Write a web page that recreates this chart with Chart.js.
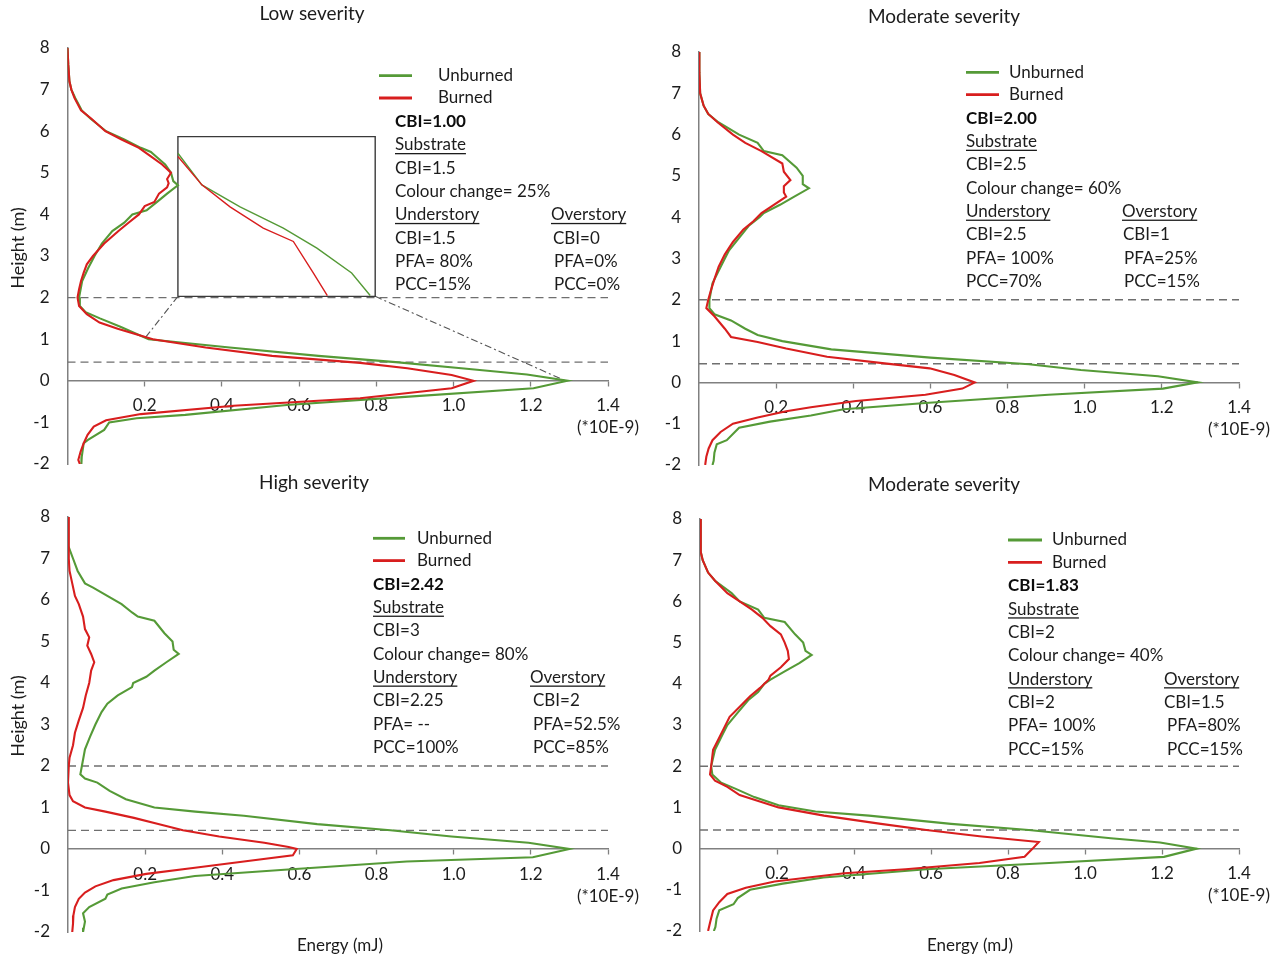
<!DOCTYPE html>
<html>
<head>
<meta charset="utf-8">
<script src="https://cdn.jsdelivr.net/npm/chart.js@4.4.1/dist/chart.umd.min.js"></script>
<style>
  html, body { margin: 0; padding: 0; background: #ffffff; }
  #wrap { position: relative; width: 1281px; height: 965px; overflow: hidden; background: #ffffff; }
  canvas { position: absolute; }
</style>
</head>
<body>
<div id="wrap">
  <canvas id="p1" width="640" height="470" style="left:0px;top:0px"></canvas>
  <canvas id="p2" width="641" height="470" style="left:640px;top:0px"></canvas>
  <canvas id="p3" width="640" height="495" style="left:0px;top:470px"></canvas>
  <canvas id="p4" width="641" height="495" style="left:640px;top:470px"></canvas>
</div>
<script>
// ---- Axis ticks -----------------------------------------------------------
const energyTicks = [0.2, 0.4, 0.6, 0.8, 1.0, 1.2, 1.4];
const heightTicks = [-2, -1, 0, 1, 2, 3, 4, 5, 6, 7, 8];
const energyUnit = '(*10E-9)';
const strataLevels = [2.0, 0.45];          // canopy / understory break heights (m)

// ---- Low severity ----------------------------------------------------------
const lowUnburnedHeight = [8.0, 7.6, 7.2, 7.0, 6.8, 6.5, 6.3, 6.0, 5.8, 5.6, 5.5, 5.45, 5.2, 5.0, 4.8, 4.7, 4.5, 4.3, 4.1, 4.0, 3.8, 3.6, 3.3, 3.0, 2.7, 2.4, 2.0, 1.8, 1.65, 1.5, 1.3, 1.0, 0.8, 0.6, 0.45, 0.3, 0.15, 0.0, -0.18, -0.38, -0.58, -0.82, -0.9, -1.0, -1.18, -1.42, -1.5, -1.82, -2.0];
const lowUnburnedEnergy = [0.000, 0.002, 0.005, 0.010, 0.020, 0.037, 0.060, 0.100, 0.147, 0.190, 0.216, 0.222, 0.253, 0.268, 0.274, 0.286, 0.258, 0.232, 0.205, 0.168, 0.147, 0.116, 0.089, 0.070, 0.053, 0.038, 0.030, 0.032, 0.047, 0.084, 0.137, 0.210, 0.420, 0.650, 0.850, 1.020, 1.190, 1.295, 1.207, 0.884, 0.568, 0.305, 0.179, 0.108, 0.095, 0.053, 0.042, 0.037, 0.036];
const lowBurnedHeight = [8.0, 7.6, 7.2, 7.0, 6.8, 6.5, 6.3, 6.0, 5.8, 5.6, 5.4, 5.2, 5.0, 4.85, 4.75, 4.65, 4.5, 4.3, 4.2, 4.0, 3.8, 3.6, 3.3, 3.0, 2.8, 2.6, 2.4, 2.2, 2.0, 1.8, 1.6, 1.4, 1.25, 1.0, 0.8, 0.6, 0.43, 0.3, 0.14, 0.0, -0.18, -0.42, -0.6, -0.8, -0.95, -1.1, -1.3, -1.5, -1.7, -1.9, -2.0];
const lowBurnedEnergy = [0.000, 0.002, 0.005, 0.010, 0.018, 0.035, 0.062, 0.098, 0.140, 0.185, 0.215, 0.245, 0.268, 0.258, 0.262, 0.258, 0.237, 0.225, 0.200, 0.185, 0.158, 0.132, 0.095, 0.066, 0.050, 0.042, 0.035, 0.030, 0.026, 0.030, 0.050, 0.083, 0.130, 0.221, 0.358, 0.530, 0.758, 0.880, 0.995, 1.052, 0.995, 0.758, 0.430, 0.190, 0.100, 0.068, 0.052, 0.042, 0.034, 0.028, 0.032];

// Magnified view of the main pulse (low severity only)
const insetUnburnedHeight = [5.47, 4.71, 4.18, 3.67, 3.19, 2.59, 2.05];
const insetUnburnedEnergy = [0.286, 0.348, 0.447, 0.559, 0.646, 0.736, 0.784];
const insetBurnedHeight = [5.39, 4.71, 4.18, 3.67, 3.35, 2.59, 2.05];
const insetBurnedEnergy = [0.286, 0.348, 0.421, 0.507, 0.585, 0.637, 0.673];
const insetFrameHeight = [2.03, 2.03, 5.87, 5.87, 2.03];
const insetFrameEnergy = [0.286, 0.797, 0.797, 0.286, 0.286];
const insetLeaderLeftHeight = [2.03, 1.03];
const insetLeaderLeftEnergy = [0.286, 0.201];
const insetLeaderRightHeight = [2.03, 0.0];
const insetLeaderRightEnergy = [0.797, 1.29];

// ---- Moderate severity (CBI 2.00) -----------------------------------------
const modAUnburnedHeight = [8.0, 7.5, 7.0, 6.7, 6.5, 6.3, 6.0, 5.8, 5.6, 5.5, 5.2, 5.0, 4.8, 4.7, 4.5, 4.3, 4.1, 4.0, 3.8, 3.5, 3.2, 3.0, 2.7, 2.4, 2.0, 1.8, 1.65, 1.5, 1.3, 1.15, 1.0, 0.8, 0.6, 0.44, 0.3, 0.15, 0.0, -0.15, -0.3, -0.5, -0.65, -0.8, -0.95, -1.1, -1.2, -1.4, -1.5, -1.7, -1.9, -2.0];
const modAUnburnedEnergy = [0.000, 0.001, 0.003, 0.012, 0.024, 0.050, 0.104, 0.152, 0.168, 0.216, 0.253, 0.269, 0.269, 0.285, 0.247, 0.210, 0.168, 0.157, 0.130, 0.104, 0.078, 0.067, 0.051, 0.035, 0.027, 0.027, 0.040, 0.083, 0.120, 0.152, 0.216, 0.343, 0.600, 0.855, 0.990, 1.190, 1.293, 1.203, 0.906, 0.587, 0.375, 0.290, 0.184, 0.104, 0.093, 0.072, 0.046, 0.040, 0.038, 0.035];
const modABurnedHeight = [8.0, 7.5, 7.0, 6.7, 6.5, 6.3, 6.0, 5.8, 5.6, 5.3, 5.1, 4.9, 4.75, 4.6, 4.5, 4.3, 4.1, 3.9, 3.7, 3.4, 3.1, 2.8, 2.5, 2.2, 2.0, 1.8, 1.6, 1.3, 1.1, 0.98, 0.82, 0.62, 0.46, 0.34, 0.18, 0.0, -0.15, -0.3, -0.45, -0.6, -0.7, -0.85, -1.0, -1.2, -1.4, -1.6, -1.8, -2.0];
const modABurnedEnergy = [0.000, 0.001, 0.003, 0.012, 0.024, 0.048, 0.088, 0.120, 0.162, 0.216, 0.220, 0.237, 0.220, 0.220, 0.226, 0.194, 0.162, 0.141, 0.115, 0.088, 0.067, 0.051, 0.040, 0.030, 0.024, 0.019, 0.040, 0.067, 0.083, 0.152, 0.226, 0.332, 0.481, 0.598, 0.662, 0.715, 0.683, 0.587, 0.407, 0.290, 0.226, 0.152, 0.088, 0.056, 0.035, 0.025, 0.019, 0.016];

// ---- High severity ---------------------------------------------------------
const highUnburnedHeight = [8.0, 7.4, 7.3, 7.0, 6.7, 6.4, 6.3, 6.1, 5.9, 5.7, 5.6, 5.5, 5.2, 5.0, 4.8, 4.7, 4.5, 4.3, 4.15, 4.0, 3.9, 3.7, 3.5, 3.3, 3.0, 2.7, 2.4, 2.0, 1.8, 1.7, 1.6, 1.4, 1.2, 1.0, 0.9, 0.8, 0.6, 0.45, 0.3, 0.15, 0.0, -0.2, -0.3, -0.5, -0.65, -0.8, -0.95, -1.1, -1.2, -1.4, -1.55, -1.75, -1.9, -2.0];
const highUnburnedEnergy = [0.000, 0.000, 0.002, 0.013, 0.025, 0.044, 0.065, 0.102, 0.139, 0.166, 0.181, 0.224, 0.250, 0.271, 0.274, 0.287, 0.255, 0.224, 0.203, 0.169, 0.166, 0.129, 0.102, 0.087, 0.071, 0.057, 0.044, 0.036, 0.032, 0.044, 0.076, 0.108, 0.150, 0.224, 0.330, 0.456, 0.646, 0.836, 0.994, 1.194, 1.300, 1.205, 0.878, 0.561, 0.329, 0.224, 0.139, 0.102, 0.097, 0.055, 0.039, 0.044, 0.041, 0.039];
const highBurnedHeight = [8.0, 7.0, 6.7, 6.4, 6.1, 5.9, 5.6, 5.3, 5.1, 4.9, 4.7, 4.5, 4.3, 4.0, 3.7, 3.4, 3.1, 2.8, 2.5, 2.2, 2.0, 1.6, 1.3, 1.15, 1.0, 0.9, 0.75, 0.6, 0.45, 0.3, 0.15, 0.05, 0.0, -0.15, -0.3, -0.45, -0.6, -0.75, -0.9, -1.05, -1.2, -1.4, -1.6, -1.8, -2.0];
const highBurnedEnergy = [0.000, 0.002, 0.004, 0.011, 0.018, 0.028, 0.039, 0.044, 0.055, 0.050, 0.060, 0.068, 0.060, 0.055, 0.046, 0.039, 0.028, 0.018, 0.013, 0.004, 0.002, 0.000, 0.004, 0.013, 0.044, 0.097, 0.171, 0.234, 0.298, 0.392, 0.509, 0.572, 0.593, 0.583, 0.456, 0.329, 0.203, 0.118, 0.071, 0.044, 0.028, 0.018, 0.014, 0.013, 0.011];

// ---- Moderate severity (CBI 1.83) -----------------------------------------
const modBUnburnedHeight = [8.0, 7.2, 7.0, 6.7, 6.5, 6.2, 6.0, 5.8, 5.6, 5.5, 5.2, 5.0, 4.8, 4.7, 4.5, 4.3, 4.1, 4.0, 3.8, 3.6, 3.3, 3.0, 2.7, 2.4, 2.0, 1.8, 1.6, 1.45, 1.25, 1.05, 0.9, 0.8, 0.6, 0.45, 0.25, 0.15, 0.0, -0.2, -0.35, -0.5, -0.7, -0.85, -1.0, -1.2, -1.35, -1.5, -1.7, -1.9, -2.0];
const modBUnburnedEnergy = [0.000, 0.002, 0.007, 0.021, 0.039, 0.082, 0.103, 0.151, 0.167, 0.220, 0.247, 0.268, 0.274, 0.290, 0.258, 0.220, 0.183, 0.167, 0.151, 0.125, 0.098, 0.071, 0.055, 0.039, 0.029, 0.032, 0.055, 0.093, 0.141, 0.204, 0.300, 0.439, 0.652, 0.854, 1.067, 1.195, 1.290, 1.205, 0.907, 0.588, 0.321, 0.215, 0.130, 0.098, 0.087, 0.050, 0.043, 0.040, 0.036];
const modBBurnedHeight = [8.0, 7.2, 7.0, 6.7, 6.5, 6.2, 6.0, 5.8, 5.6, 5.4, 5.2, 5.0, 4.8, 4.6, 4.4, 4.2, 4.1, 3.9, 3.7, 3.5, 3.2, 2.9, 2.6, 2.4, 2.0, 1.8, 1.65, 1.5, 1.3, 1.0, 0.8, 0.6, 0.45, 0.3, 0.16, 0.0, -0.2, -0.35, -0.5, -0.6, -0.8, -0.95, -1.1, -1.3, -1.5, -1.8, -2.0];
const modBBurnedEnergy = [0.000, 0.002, 0.007, 0.021, 0.039, 0.071, 0.103, 0.135, 0.162, 0.183, 0.210, 0.220, 0.228, 0.231, 0.210, 0.183, 0.178, 0.156, 0.130, 0.109, 0.077, 0.061, 0.045, 0.034, 0.029, 0.026, 0.039, 0.071, 0.103, 0.204, 0.322, 0.470, 0.588, 0.726, 0.880, 0.864, 0.843, 0.726, 0.534, 0.375, 0.194, 0.119, 0.071, 0.050, 0.034, 0.026, 0.021];

// ---- Per-site burn severity descriptors -----------------------------------
const seriesNames = ['Burned', 'Unburned'];
const lowCbi = 'CBI=1.00';
const lowSubstrate = ['CBI=1.5', 'Colour change= 25%'];
const lowUnderstory = ['CBI=1.5', 'PFA= 80%', 'PCC=15%'];
const lowOverstory = ['CBI=0', 'PFA=0%', 'PCC=0%'];
const modACbi = 'CBI=2.00';
const modASubstrate = ['CBI=2.5', 'Colour change= 60%'];
const modAUnderstory = ['CBI=2.5', 'PFA= 100%', 'PCC=70%'];
const modAOverstory = ['CBI=1', 'PFA=25%', 'PCC=15%'];
const highCbi = 'CBI=2.42';
const highSubstrate = ['CBI=3', 'Colour change= 80%'];
const highUnderstory = ['CBI=2.25', 'PFA= --', 'PCC=100%'];
const highOverstory = ['CBI=2', 'PFA=52.5%', 'PCC=85%'];
const modBCbi = 'CBI=1.83';
const modBSubstrate = ['CBI=2', 'Colour change= 40%'];
const modBUnderstory = ['CBI=2', 'PFA= 100%', 'PCC=15%'];
const modBOverstory = ['CBI=1.5', 'PFA=80%', 'PCC=15%'];

// ---- Styling ---------------------------------------------------------------
const GREEN = '#559a37';
const RED = '#d81e1e';
const AXIS = '#808080';
const INK = '#1c1c1c';
const FONT = 'Lato, "Open Sans", sans-serif';
const TXT = 17;

const pts = (xs, ys) => xs.map((v, i) => ({ x: v, y: ys[i] }));

function lineSet(label, xs, ys, color, width, extra) {
  return Object.assign({
    label, data: pts(xs, ys), borderColor: color, backgroundColor: color,
    borderWidth: width, pointRadius: 0, showLine: true, tension: 0, fill: false
  }, extra || {});
}

// Draws the panel title, axis titles, legend and descriptor block
const annotate = {
  id: 'annotate',
  afterDraw(chart, args, o) {
    const ctx = chart.ctx;
    ctx.save();
    ctx.fillStyle = INK;
    ctx.textBaseline = 'middle';
    const put = (t, x, y, opts = {}) => {
      ctx.font = `${opts.bold ? 'bold ' : ''}${opts.size || TXT}px ${FONT}`;
      ctx.textAlign = opts.align || 'left';
      ctx.fillStyle = opts.color || INK;
      ctx.fillText(t, x, y);
      if (opts.under) {
        const w = ctx.measureText(t).width;
        ctx.fillRect(x, y + 8, w, 1.3);
      }
    };
    // title
    put(o.title, o.titleX, o.titleY, { align: 'center', size: 19 });
    if (o.xTitle) put('Energy (mJ)', o.xTitle[0], o.xTitle[1], { align: 'center' });
    if (o.yTitle) {
      ctx.save();
      ctx.translate(o.yTitle[0], o.yTitle[1]);
      ctx.rotate(-Math.PI / 2);
      put('Height (m)', 0, 0, { align: 'center', size: 18 });
      ctx.restore();
    }
    // legend, from the curve datasets
    const t = o.text;
    const rowY = i => t.y0 + i * 23.3;
    const legendOrder = [1, 0];
    legendOrder.forEach((di, r) => {
      const ds = chart.data.datasets[di];
      const y = rowY(r) + (r === 0 ? 0.6 : -0.4);
      ctx.strokeStyle = ds.borderColor;
      ctx.lineWidth = 2.8;
      ctx.beginPath();
      ctx.moveTo(t.lx0, y);
      ctx.lineTo(t.lx1, y);
      ctx.stroke();
      put(ds.label, t.lt, y);
    });
    // descriptors
    const d = o.desc;
    put(d.cbi, t.x, rowY(2), { bold: true, color: '#0d0d0d' });
    put('Substrate', t.x, rowY(3), { under: true });
    put(d.substrate[0], t.x, rowY(4));
    put(d.substrate[1], t.x, rowY(5));
    put('Understory', t.x, rowY(6), { under: true });
    put('Overstory', t.hx, rowY(6), { under: true });
    d.understory.forEach((s, i) => put(s, t.x, rowY(7 + i)));
    d.overstory.forEach((s, i) => put(s, t.vx[i], rowY(7 + i)));
    ctx.restore();
  }
};

function buildPanel(cfg) {
  const datasets = [
    lineSet(seriesNames[0], cfg.burned[0], cfg.burned[1], RED, 2.1),
    lineSet(seriesNames[1], cfg.unburned[0], cfg.unburned[1], GREEN, 2.1)
  ];
  if (cfg.inset) {
    datasets.push(lineSet('inset burned', insetBurnedEnergy, insetBurnedHeight, RED, 1.4));
    datasets.push(lineSet('inset unburned', insetUnburnedEnergy, insetUnburnedHeight, GREEN, 1.4));
    datasets.push(lineSet('inset frame', insetFrameEnergy, insetFrameHeight, '#3a3a3a', 1.4));
    datasets.push(lineSet('leader', insetLeaderLeftEnergy, insetLeaderLeftHeight, '#555555', 1.1, { borderDash: [7, 3, 2, 3] }));
    datasets.push(lineSet('leader', insetLeaderRightEnergy, insetLeaderRightHeight, '#555555', 1.1, { borderDash: [7, 3, 2, 3] }));
  }
  strataLevels.forEach(h => {
    datasets.push(lineSet('level', [0, 1.4], [h, h], '#6f6f6f', 1.4, { borderDash: [8, 5] }));
  });

  const W = cfg.width, H = cfg.height;
  new Chart(document.getElementById(cfg.id), {
    type: 'scatter',
    data: { datasets },
    plugins: [annotate],
    options: {
      responsive: false,
      animation: false,
      devicePixelRatio: 1,
      layout: { padding: { left: 0, top: cfg.top, right: W - cfg.right, bottom: H - cfg.bottom } },
      plugins: { legend: { display: false }, tooltip: { enabled: false }, annotate: cfg.notes },
      scales: {
        x: {
          type: 'linear', min: 0, max: 1.4, position: { y: 0 },
          afterBuildTicks: s => { s.ticks = energyTicks.map(v => ({ value: v })); },
          afterFit: s => { s.height = 0; s.paddingLeft = 0; s.paddingRight = 0; },
          ticks: {
            autoSkip: false, maxRotation: 0, padding: 9, color: INK,
            font: { family: FONT, size: 17, lineHeight: 1.3 },
            callback: v => v === energyTicks[energyTicks.length - 1] ? [v.toFixed(1), energyUnit] : v.toFixed(1)
          },
          grid: { display: true, drawOnChartArea: false, drawTicks: true, tickLength: 5, tickColor: AXIS, tickWidth: 1.3 },
          border: { display: true, color: AXIS, width: 1.5 }
        },
        y: {
          type: 'linear', min: -2, max: 8,
          afterBuildTicks: s => { s.ticks = heightTicks.map(v => ({ value: v })); },
          afterFit: s => { s.width = cfg.left; s.paddingTop = 0; s.paddingBottom = 0; },
          ticks: { padding: 18, color: INK, font: { family: FONT, size: 17 } },
          grid: { display: false, drawTicks: false },
          border: { display: true, color: AXIS, width: 1.5 }
        }
      }
    }
  });
}

buildPanel({
  id: 'p1', width: 640, height: 470, left: 67.5, right: 608, top: 48, bottom: 464,
  burned: [lowBurnedEnergy, lowBurnedHeight], unburned: [lowUnburnedEnergy, lowUnburnedHeight], inset: true,
  notes: {
    title: 'Low severity', titleX: 312, titleY: 14, yTitle: [18, 248], xTitle: null,
    text: { x: 395, y0: 75.1, lx0: 379, lx1: 412, lt: 438, hx: 551, vx: [553, 554, 554] },
    desc: { cbi: lowCbi, substrate: lowSubstrate, understory: lowUnderstory, overstory: lowOverstory }
  }
});
buildPanel({
  id: 'p2', width: 641, height: 470, left: 59, right: 599, top: 52, bottom: 465,
  burned: [modABurnedEnergy, modABurnedHeight], unburned: [modAUnburnedEnergy, modAUnburnedHeight],
  notes: {
    title: 'Moderate severity', titleX: 304, titleY: 17, yTitle: null, xTitle: null,
    text: { x: 326, y0: 71.8, lx0: 326, lx1: 359, lt: 369, hx: 482, vx: [483, 484, 484] },
    desc: { cbi: modACbi, substrate: modASubstrate, understory: modAUnderstory, overstory: modAOverstory }
  }
});
buildPanel({
  id: 'p3', width: 640, height: 495, left: 68, right: 608, top: 47, bottom: 462,
  burned: [highBurnedEnergy, highBurnedHeight], unburned: [highUnburnedEnergy, highUnburnedHeight],
  notes: {
    title: 'High severity', titleX: 314, titleY: 13, yTitle: [18, 246], xTitle: [340, 476],
    text: { x: 373, y0: 67.7, lx0: 373, lx1: 405, lt: 417, hx: 530, vx: [533, 533, 533] },
    desc: { cbi: highCbi, substrate: highSubstrate, understory: highUnderstory, overstory: highOverstory }
  }
});
buildPanel({
  id: 'p4', width: 641, height: 495, left: 60, right: 599, top: 49, bottom: 461,
  burned: [modBBurnedEnergy, modBBurnedHeight], unburned: [modBUnburnedEnergy, modBUnburnedHeight],
  notes: {
    title: 'Moderate severity', titleX: 304, titleY: 15, yTitle: null, xTitle: [330, 476],
    text: { x: 368, y0: 69.4, lx0: 368, lx1: 402, lt: 412, hx: 524, vx: [524, 527, 527] },
    desc: { cbi: modBCbi, substrate: modBSubstrate, understory: modBUnderstory, overstory: modBOverstory }
  }
});
</script>
</body>
</html>
